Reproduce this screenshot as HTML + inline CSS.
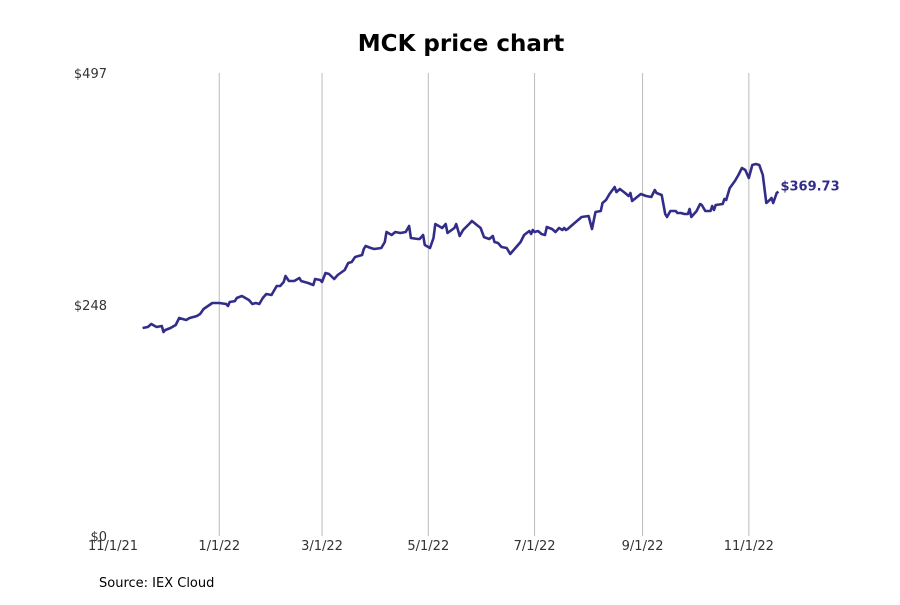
<!DOCTYPE html>
<html><head><meta charset="utf-8"><style>
body{margin:0;background:#fff;font-family:"Liberation Sans","DejaVu Sans",sans-serif}
</style></head><body>
<svg width="900" height="600" viewBox="0 0 900 600" xmlns="http://www.w3.org/2000/svg" font-family="DejaVu Sans, Liberation Sans, sans-serif">
<rect width="900" height="600" fill="#fff"/>
<text x="461" y="51" text-anchor="middle" font-size="23" font-weight="bold" fill="#000">MCK price chart</text>
<g id="grid"></g>
<g id="yaxis"></g>
<g id="xaxis"></g>
<g id="series"></g>
<text x="99" y="587" font-size="13" fill="#000">Source: IEX Cloud</text>
</svg>
<script>
// days since 11/1/21
const days=[17,20,22,24,25,28,29,30,33,36,38,42,44,48,50,52,57,61,65,66,67,70,71,74,78,80,82,84,86,88,91,94,96,98,99,101,104,107,108,112,115,116,119,120,122,124,127,129,133,135,137,139,143,144,145,148,150,154,156,157,160,162,165,168,170,171,175,176,178,179,182,184,185,189,191,192,196,197,199,201,205,206,211,213,216,218,219,221,223,226,228,231,234,236,239,240,241,242,244,246,248,249,252,254,256,258,259,260,261,263,267,269,273,275,277,280,281,283,285,288,289,291,294,296,297,298,303,306,309,311,312,315,317,318,320,323,324,326,328,330,331,332,335,337,338,340,343,344,345,346,350,351,352,354,357,359,361,363,365,367,369,371,373,375,377,378,379,381,382];
const prices=[223.3,224.3,227.6,225.4,224.3,225.4,219.0,221.1,223.3,226.5,234.0,231.9,234.0,236.1,238.3,243.7,250.1,250.1,249.0,246.9,251.2,252.2,255.5,257.6,253.3,249.0,250.1,249.0,255.5,259.8,258.7,268.4,268.4,272.6,279.1,273.7,273.7,276.9,273.7,271.6,269.4,275.9,274.8,272.6,282.3,281.2,275.9,280.2,285.5,293.0,294.1,299.5,301.6,308.1,311.3,309.1,308.1,309.1,315.6,326.3,323.1,326.3,325.2,326.3,332.8,319.9,318.8,318.8,323.1,312.4,309.1,319.9,334.9,330.6,334.9,325.2,330.6,334.9,322.0,328.5,336.0,338.1,330.6,320.9,318.8,322.0,315.6,314.5,310.2,309.1,302.7,309.1,315.6,323.1,327.4,324.2,328.5,326.3,327.4,324.2,323.1,331.7,329.5,326.3,330.6,328.5,330.6,328.5,329.5,332.8,339.2,342.4,343.5,329.5,347.8,348.9,357.4,360.7,367.1,374.6,369.2,372.5,368.2,365.0,368.2,359.6,367.1,365.0,363.9,371.4,368.2,366.0,345.6,342.4,348.9,348.9,346.7,346.7,345.6,345.6,351.0,342.4,348.9,356.4,355.3,348.9,348.9,354.2,349.9,355.3,356.4,361.7,360.7,373.5,381.1,387.5,395.0,392.9,384.3,398.2,399.3,398.2,387.5,357.4,360.7,362.8,357.4,368.2,369.73];
const xTickDays=[0,61,120,181,242,304,365];
const xTickLabels=["11/1/21","1/1/22","3/1/22","5/1/22","7/1/22","9/1/22","11/1/22"];
const yTicks=[0,248,497];
const yTickLabels=["$0","$248","$497"];
const lastLabel="$369.73";

const NS="http://www.w3.org/2000/svg";
const X0=113,PXD=1.742,Y0=536,YTOP=73,YMAX=497;
const xs=d=>X0+d*PXD;
const ys=v=>Y0-v/YMAX*(Y0-YTOP);
function mk(tag,attrs,parent){const e=document.createElementNS(NS,tag);for(const k in attrs)e.setAttribute(k,attrs[k]);parent.appendChild(e);return e;}
const grid=document.getElementById('grid'),xa=document.getElementById('xaxis'),ya=document.getElementById('yaxis'),ser=document.getElementById('series');
xTickDays.forEach((d,i)=>{
  if(i>0){const l=mk('line',{x1:xs(d),x2:xs(d),y1:YTOP,y2:Y0,stroke:'#bbb','stroke-width':1},grid);
  
  }
  const t=mk('text',{x:xs(d),y:550,'text-anchor':'middle','font-size':13,fill:'#333'},xa);
  t.textContent=xTickLabels[i];
  
  
});
yTicks.forEach((v,i)=>{
  const t=mk('text',{x:107,y:ys(v)+5,'text-anchor':'end','font-size':13,fill:'#333'},ya);
  t.textContent=yTickLabels[i];
  
  
});
const pts=days.map((d,i)=>xs(d).toFixed(1)+','+ys(prices[i]).toFixed(1)).join(' ');
const pl=mk('polyline',{points:pts,fill:'none',stroke:'#332d8a','stroke-width':2.6,'stroke-linejoin':'round'},ser);


const n=days.length-1;
const lb=mk('text',{x:xs(days[n])+2,y:ys(prices[n])-1,'font-size':13,'font-weight':'bold',fill:'#332d8a'},ser);
lb.textContent=lastLabel;


</script>
</body></html>
